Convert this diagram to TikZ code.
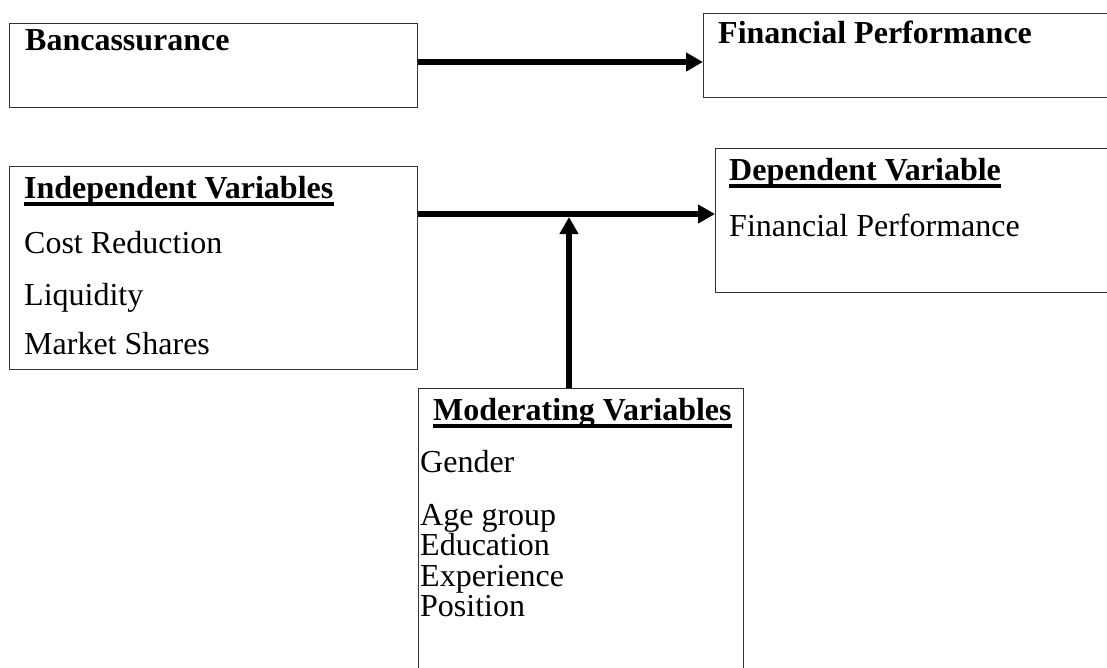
\documentclass[tikz,border=0pt]{standalone}
\usepackage{fontspec}
\setmainfont{Liberation Serif}
\usetikzlibrary{arrows.meta}
\tikzset{
  boxx/.style={draw=black!80, line width=1.3pt, anchor=north west, inner sep=0pt, minimum width=#1},
  txt/.style={anchor=base west, inner sep=0pt, font=\fontsize{32}{37}\selectfont},
  btxt/.style={txt, font=\fontsize{32}{37}\selectfont\bfseries},
  arr/.style={line width=5.5pt, -{Triangle[length=17pt,width=18pt]}},
  uline/.style={line width=3.2pt}
}
\begin{document}
\begin{tikzpicture}[x=1pt,y=-1pt]
\useasboundingbox (0,0) rectangle (1107,667);
\clip (0,0) rectangle (1107,667);
% boxes
\node[boxx=408pt, minimum height=84pt] (b1) at (9,23) {};
\node[boxx=430pt, minimum height=84pt] (b2) at (703,13) {};
\node[boxx=408pt, minimum height=203pt] (b3) at (9,166) {};
\node[boxx=420pt, minimum height=144pt] (b4) at (715,148) {};
\node[boxx=325pt, minimum height=320pt] (b5) at (418,388) {};
% texts
\node[btxt] (t1) at (25,50) {Bancassurance};
\node[btxt] (t2) at (718,43) {Financial Performance};
\node[btxt] (h3) at (24,198) {Independent Variables};
\node[txt] (c1) at (24,253) {Cost Reduction};
\node[txt] (c2) at (24,305) {Liquidity};
\node[txt] (c3) at (24,354) {Market Shares};
\node[btxt] (h4) at (729,180) {Dependent Variable};
\node[txt] (d1) at (729,236) {Financial Performance};
\node[btxt] (h5) at (433,420) {Moderating Variables};
\node[txt] (m1) at (420,472) {Gender};
\node[txt] (m2) at (420,525) {Age group};
\node[txt] (m3) at (420,555.5) {Education};
\node[txt] (m4) at (420,586) {Experience};
\node[txt] (m5) at (420,616.5) {Position};
% underlines
\draw[uline] ([yshift=-6pt]h3.base west) -- ([yshift=-6pt]h3.base east);
\draw[uline] ([yshift=-6pt]h4.base west) -- ([yshift=-6pt]h4.base east);
\draw[uline] ([yshift=-6pt]h5.base west) -- ([yshift=-6pt]h5.base east);
% connectors
\coordinate (y1) at (0,62);
\coordinate (y2) at (0,214);
\coordinate (j) at (569,217);
\draw[arr] (b1.east |- y1) -- (b2.west |- y1);
\draw[arr] (b3.east |- y2) -- (b4.west |- y2);
\draw[arr] (j |- b5.north) -- (j);
\end{tikzpicture}
\end{document}
